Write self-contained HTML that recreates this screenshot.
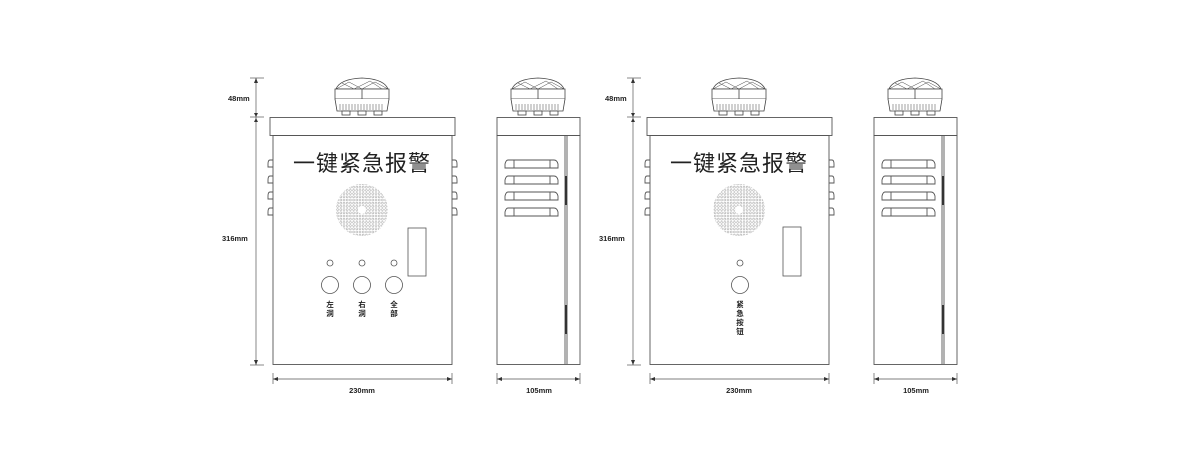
<!DOCTYPE html>
<html><head><meta charset="utf-8"><style>
html,body{margin:0;padding:0;background:#fff;}
svg{display:block}
text{font-family:"Liberation Sans","Noto Sans CJK SC",sans-serif;fill:#222}
</style></head><body>
<svg width="1180" height="464" viewBox="0 0 1180 464" xmlns="http://www.w3.org/2000/svg">
<defs>
<pattern id="dots" x="0" y="0" width="3.2" height="3.2" patternUnits="userSpaceOnUse">
<circle cx="1.6" cy="1.6" r="1.0" fill="none" stroke="#888" stroke-width="0.45"/>
</pattern>
<g id="beacon" fill="#fff" stroke="#444" stroke-width="0.8">
<path d="M-26,10 Q-22,0 0,-1 Q22,0 26,10 Z"/>
<path d="M-26,10 L-13,3 L0,10 L13,3 L26,10 M-20,4 L-8,10 L8,2 L20,10" fill="none" stroke-width="0.5"/>
<rect x="-27" y="10" width="54" height="10"/>
<line x1="0" y1="10" x2="0" y2="20"/>
<path d="M-27,20 L-25,32 L25,32 L27,20" />
<path d="M-22,25 v6 M-19,25 v6 M-16,25 v6 M-13,25 v6 M-10,25 v6 M-7,25 v6 M-4,25 v6 M-1,25 v6 M2,25 v6 M5,25 v6 M8,25 v6 M11,25 v6 M14,25 v6 M17,25 v6 M20,25 v6" stroke-width="0.5"/>
<rect x="-20" y="32" width="8" height="4"/><rect x="-4" y="32" width="8" height="4"/><rect x="12" y="32" width="8" height="4"/>
</g>
<g id="front" fill="none" stroke="#555" stroke-width="0.9">
<rect x="270" y="117.5" width="185" height="18" fill="#fff"/>
<rect x="273" y="135.5" width="179" height="229"/>
<use href="#beacon" x="362" y="79"/>
<path d="M273,160 h-3 q-2,0 -2,4 v3 h5 M273,176 h-3 q-2,0 -2,4 v3 h5 M273,192 h-3 q-2,0 -2,4 v3 h5 M273,208 h-3 q-2,0 -2,4 v3 h5"/>
<path d="M452,160 h3 q2,0 2,4 v3 h-5 M452,176 h3 q2,0 2,4 v3 h-5 M452,192 h3 q2,0 2,4 v3 h-5 M452,208 h3 q2,0 2,4 v3 h-5"/>
</g>
<g id="side" fill="none" stroke="#555" stroke-width="0.9">
<rect x="497" y="117.5" width="83" height="18" fill="#fff"/>
<rect x="497" y="135.5" width="83" height="229"/>
<line x1="565" y1="135.5" x2="565" y2="364"/>
<line x1="567" y1="135.5" x2="567" y2="364"/>
<line x1="566" y1="176" x2="566" y2="205" stroke="#333" stroke-width="2"/>
<line x1="566" y1="305" x2="566" y2="334" stroke="#333" stroke-width="2"/>
<use href="#beacon" x="538" y="79"/>
<path d="M508,160 h46 q3,0 4,4 l0,4 h-53 l0,-4 q1,-4 3,-4 Z M514,160 v8 M550,160 v8"/>
<path d="M508,176 h46 q3,0 4,4 l0,4 h-53 l0,-4 q1,-4 3,-4 Z M514,176 v8 M550,176 v8"/>
<path d="M508,192 h46 q3,0 4,4 l0,4 h-53 l0,-4 q1,-4 3,-4 Z M514,192 v8 M550,192 v8"/>
<path d="M508,208 h46 q3,0 4,4 l0,4 h-53 l0,-4 q1,-4 3,-4 Z M514,208 v8 M550,208 v8"/>
</g>
<g id="dims" stroke="#555" stroke-width="0.7" fill="#333">
<line x1="256" y1="78" x2="256" y2="365"/>
<line x1="250" y1="78" x2="264" y2="78"/>
<line x1="250" y1="117" x2="264" y2="117"/>
<line x1="250" y1="365" x2="264" y2="365"/>
<path d="M256,78 l-2,5 h4 Z M256,117 l-2,-4 h4 Z M256,118 l-2,4 h4 Z M256,365 l-2,-5 h4 Z" stroke="none"/>
<line x1="273" y1="379" x2="452" y2="379"/>
<line x1="273" y1="373" x2="273" y2="384"/><line x1="452" y1="373" x2="452" y2="384"/>
<path d="M273,379 l5,-2 v4 Z M452,379 l-5,-2 v4 Z" stroke="none"/>
<line x1="497" y1="379" x2="580" y2="379"/>
<line x1="497" y1="373" x2="497" y2="384"/><line x1="580" y1="373" x2="580" y2="384"/>
<path d="M497,379 l5,-2 v4 Z M580,379 l-5,-2 v4 Z" stroke="none"/>
</g>
</defs>

<use href="#front"/><use href="#side"/><use href="#dims"/>
<g transform="translate(377,0)"><use href="#front"/><use href="#side"/><use href="#dims"/></g>

<g>
<circle cx="362" cy="210" r="26" fill="url(#dots)"/>
<circle cx="362" cy="210" r="4" fill="#fff"/>
<circle cx="739" cy="210" r="26" fill="url(#dots)"/>
<circle cx="739" cy="210" r="4" fill="#fff"/>
</g>

<text x="362" y="171" font-size="22" text-anchor="middle" letter-spacing="1">一键紧急报警</text>
<text x="739" y="171" font-size="22" text-anchor="middle" letter-spacing="1">一键紧急报警</text>

<g fill="none" stroke="#555" stroke-width="0.8">
<rect x="408" y="228" width="18" height="48"/>
<circle cx="330" cy="263" r="3"/><circle cx="362" cy="263" r="3"/><circle cx="394" cy="263" r="3"/>
<circle cx="330" cy="285" r="8.5"/><circle cx="362" cy="285" r="8.5"/><circle cx="394" cy="285" r="8.5"/>
<rect x="783" y="227" width="18" height="49"/>
<circle cx="740" cy="263" r="3"/>
<circle cx="740" cy="285" r="8.5"/>
</g>
<g font-size="7.5" text-anchor="middle" font-weight="bold">
<text x="330" y="307">左</text><text x="330" y="316">洞</text>
<text x="362" y="307">右</text><text x="362" y="316">洞</text>
<text x="394" y="307">全</text><text x="394" y="316">部</text>
<text x="740" y="307">紧</text><text x="740" y="316">急</text><text x="740" y="325">按</text><text x="740" y="334">钮</text>
</g>

<g font-size="7.5" font-weight="bold">
<text x="228" y="101">48mm</text>
<text x="222" y="241">316mm</text>
<text x="605" y="101">48mm</text>
<text x="599" y="241">316mm</text>
<text x="362" y="393" text-anchor="middle">230mm</text>
<text x="539" y="393" text-anchor="middle">105mm</text>
<text x="739" y="393" text-anchor="middle">230mm</text>
<text x="916" y="393" text-anchor="middle">105mm</text>
</g>
</svg>
</body></html>
